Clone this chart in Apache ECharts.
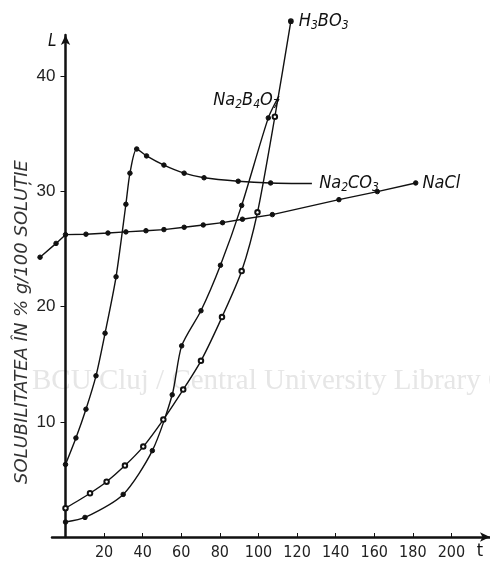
<!DOCTYPE html>
<html><head><meta charset="utf-8">
<script src="https://cdn.jsdelivr.net/npm/echarts@6/dist/echarts.min.js"></script>
<style>html,body{margin:0;padding:0;background:#fff}#c{width:490px;height:562px}</style>
</head><body><div id="c"></div>
<script>
// Temperature ticks (t) and solubility ticks (L)
const xTicks = [20, 40, 60, 80, 100, 120, 140, 160, 180, 200];
const yTicks = [10, 20, 30, 40];

// NaCl
const naclT = [-13.2, -4.9, 0, 10.6, 22, 31.3, 41.7, 51, 61.5, 71.4, 81.4, 91.7, 107.2, 141.7, 161.6, 181.5];
const naclL = [24.3, 25.5, 26.26, 26.3, 26.4, 26.5, 26.6, 26.7, 26.9, 27.1, 27.3, 27.6, 28.0, 29.3, 30.0, 30.75];

// Na2CO3 (last value = end of line next to label, no marker)
const carbT = [0, 5.4, 10.6, 15.8, 20.5, 26.2, 31.3, 33.4, 36.9, 42, 51, 61.5, 71.8, 89.5, 106.3, 127.7];
const carbL = [6.3, 8.6, 11.1, 14.0, 17.7, 22.6, 28.9, 31.6, 33.7, 33.1, 32.3, 31.6, 31.2, 30.9, 30.75, 30.7];

// Na2B4O7 (last value = end of line at label, no marker)
const boraxT = [0, 10.1, 29.9, 45, 55.3, 60.2, 70.2, 80.3, 91.3, 105.1, 110.6];
const boraxL = [1.3, 1.7, 3.7, 7.5, 12.35, 16.6, 19.65, 23.6, 28.8, 36.4, 38.3];

// H3BO3
const boricT = [0, 12.7, 21.3, 30.8, 40.3, 50.7, 61, 70.2, 81.1, 91.3, 99.5, 108.5, 116.8];
const boricL = [2.5, 3.8, 4.8, 6.2, 7.85, 10.2, 12.8, 15.3, 19.1, 23.1, 28.2, 36.5, 44.8];

// axis ranges
const T_MIN = -7, T_MAX = 220, L_MIN = 0, L_MAX = 43.6;
const T_MIN_WIDE = -15; // second (hidden) coordinate system so NaCl can reach t < T_MIN

const FONT = "'Liberation Sans Narrow', 'DejaVu Sans Condensed', 'DejaVu Sans', sans-serif";
const rich = {
  n: {fontSize: 18, fontStyle: 'italic', fontFamily: FONT, color: '#111'},
  s: {fontSize: 12, fontStyle: 'italic', fontFamily: FONT, color: '#111', padding: [9, 0, 0, 0]}
};

function build(ts, ls, opts) {
  return ts.map((t, i) => {
    const item = {value: [t, ls[i]]};
    const last = i === ts.length - 1;
    if (opts.hiddenLast && last) {
      item.symbol = 'circle';
      item.itemStyle = {color: 'rgba(0,0,0,0)', borderColor: 'rgba(0,0,0,0)', borderWidth: 0};
    }
    if (opts.filledLast && last) {
      item.symbol = 'circle';
      item.itemStyle = {color: '#111', borderColor: '#111'};
    }
    if (last && opts.label) item.label = Object.assign({show: true, rich: rich}, opts.label);
    return item;
  });
}

const baseSeries = {
  type: 'line', clip: false, smooth: 0.25, symbolSize: 4.5,
  lineStyle: {color: '#111', width: 1.4},
  itemStyle: {color: '#111', borderColor: '#111', borderWidth: 1},
  emphasis: {disabled: true}, animation: false
};

// plot geometry
const GL = 52, GR = 0, GT = 35, GB = 25, W = 490;
const pxPerT = (W - GL - GR) / (T_MAX - T_MIN);
const zeroOffset = (0 - T_MIN) * pxPerT;           // where t = 0 lies inside grid
const GL2 = GL - (T_MIN - T_MIN_WIDE) * pxPerT;     // same scale, wider range

const chart = echarts.init(document.getElementById('c'));
chart.setOption({
  animation: false,
  backgroundColor: '#fff',
  grid: [
    {left: GL, right: GR, top: GT, bottom: GB},
    {left: GL2, right: GR, top: GT, bottom: GB}
  ],
  xAxis: [{
    type: 'value', min: T_MIN, max: T_MAX, gridIndex: 0,
    name: 't', nameLocation: 'end', nameGap: -10,
    nameTextStyle: {fontSize: 18, color: '#111', fontFamily: FONT, align: 'center', verticalAlign: 'top', padding: [5, 0, 0, 0]},
    axisLine: {show: true, onZero: false, lineStyle: {color: '#111', width: 2.5}, symbol: ['none', 'arrow'], symbolSize: [7, 10]},
    axisTick: {show: true, inside: true, length: 4, customValues: xTicks, lineStyle: {color: '#111', width: 1}},
    axisLabel: {customValues: xTicks, margin: 8, fontSize: 16, color: '#222', fontFamily: FONT},
    splitLine: {show: false}
  }, {
    type: 'value', min: T_MIN_WIDE, max: T_MAX, gridIndex: 1, show: false,
    axisLine: {show: false}, axisTick: {show: false}, axisLabel: {show: false}, splitLine: {show: false}
  }],
  yAxis: [{
    type: 'value', min: L_MIN, max: L_MAX, gridIndex: 0, offset: -zeroOffset,
    name: 'L', nameLocation: 'end', nameGap: -7,
    nameTextStyle: {fontSize: 17, fontStyle: 'italic', color: '#111', fontFamily: FONT, align: 'right', verticalAlign: 'middle', padding: [0, 9, 0, 0]},
    axisLine: {show: true, onZero: false, lineStyle: {color: '#111', width: 2.5}, symbol: ['none', 'arrow'], symbolSize: [7, 10]},
    axisTick: {show: true, inside: false, length: 5, customValues: yTicks, lineStyle: {color: '#111', width: 1}},
    axisLabel: {customValues: yTicks, margin: 10, fontSize: 17, color: '#222', fontFamily: "'Liberation Sans', 'DejaVu Sans', sans-serif"},
    splitLine: {show: false}
  }, {
    type: 'value', min: L_MIN, max: L_MAX, gridIndex: 1, show: false,
    axisLine: {show: false}, axisTick: {show: false}, axisLabel: {show: false}, splitLine: {show: false}
  }],
  graphic: [
    {type: 'text', silent: true, z: -10, left: 32, top: 367,
     style: {text: 'BCU Cluj / Central University Library Cluj', font: '29px "Liberation Serif", "DejaVu Serif", serif', fill: '#e6e6e6'}},
    {type: 'text', silent: true, rotation: Math.PI / 2, x: 22, y: 322,
     style: {text: 'SOLUBILITATEA ÎN % g/100 SOLUȚIE', font: 'italic 18px "DejaVu Sans", sans-serif', fill: '#333', align: 'center', verticalAlign: 'middle'}}
  ],
  series: [
    Object.assign({}, baseSeries, {name: 'NaCl', symbol: 'circle', smooth: false, xAxisIndex: 1, yAxisIndex: 1,
      data: build(naclT, naclL, {label: {position: 'right', distance: 4, formatter: '{n|NaCl}'}})}),
    Object.assign({}, baseSeries, {name: 'Na2CO3', symbol: 'circle',
      data: build(carbT, carbL, {hiddenLast: true, label: {position: 'right', distance: 5, formatter: '{n|Na}{s|2}{n|CO}{s|3}'}})}),
    Object.assign({}, baseSeries, {name: 'Na2B4O7', symbol: 'circle',
      data: build(boraxT, boraxL, {hiddenLast: true, label: {position: 'left', distance: 0, offset: [3, 4], formatter: '{n|Na}{s|2}{n|B}{s|4}{n|O}{s|7}'}})}),
    Object.assign({}, baseSeries, {name: 'H3BO3', symbol: 'emptyCircle',
      itemStyle: {color: '#111', borderColor: '#111', borderWidth: 1.2},
      data: build(boricT, boricL, {filledLast: true, label: {position: 'right', distance: 5, formatter: '{n|H}{s|3}{n|BO}{s|3}'}})})
  ]
});
</script>
</body></html>
